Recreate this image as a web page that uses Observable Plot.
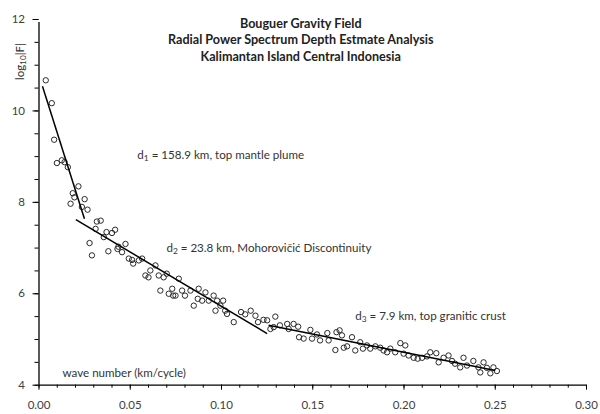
<!DOCTYPE html>
<html>
<head>
<meta charset="utf-8">
<script src="https://cdn.jsdelivr.net/npm/d3@7"></script>
<script src="https://cdn.jsdelivr.net/npm/@observablehq/plot@0.6"></script>
<style>
  html, body { margin: 0; padding: 0; background: #fff; }
  #chart svg { display: block; }
</style>
</head>
<body>
<div id="chart"></div>
<script>
// ---- data ----
const waveNumber = [
  0.0037, 0.0070, 0.0083, 0.0098, 0.0125, 0.0140, 0.0158, 0.0173, 0.0185, 0.0194,
  0.0216, 0.0235, 0.0250, 0.0266, 0.0277, 0.0290, 0.0310, 0.0317, 0.0338, 0.0355,
  0.0370, 0.0380, 0.0400, 0.0417, 0.0430, 0.0435, 0.0455, 0.0474, 0.0492, 0.0510,
  0.0516, 0.0547, 0.0565, 0.0583, 0.0600, 0.0610, 0.0638, 0.0656, 0.0665, 0.0683,
  0.0700, 0.0711, 0.0730, 0.0735, 0.0748, 0.0766, 0.0784, 0.0800, 0.0830, 0.0848,
  0.0870, 0.0875, 0.0894, 0.0912, 0.0930, 0.0957, 0.0967, 0.0976, 0.0994, 0.1009,
  0.1020, 0.1030, 0.1067, 0.1107, 0.1130, 0.1160, 0.1186, 0.1200, 0.1230, 0.1250,
  0.1268, 0.1286, 0.1295, 0.1320, 0.1360, 0.1368, 0.1395, 0.1420, 0.1425, 0.1450,
  0.1487, 0.1496, 0.1523, 0.1540, 0.1580, 0.1587, 0.1624, 0.1630, 0.1647, 0.1660,
  0.1670, 0.1688, 0.1715, 0.1733, 0.1760, 0.1775, 0.1797, 0.1815, 0.1843, 0.1870,
  0.1888, 0.1907, 0.1925, 0.1952, 0.1980, 0.1998, 0.2007, 0.2025, 0.2053, 0.2075,
  0.2099, 0.2126, 0.2144, 0.2177, 0.2190, 0.2217, 0.2244, 0.2263, 0.2280, 0.2308,
  0.2326, 0.2345, 0.2380, 0.2408, 0.2418, 0.2436, 0.2454, 0.2473, 0.2490, 0.2509
];
const logPower = [
  10.67, 10.17, 9.37, 8.86, 8.92, 8.88, 8.77, 7.97, 8.20, 8.11,
  8.35, 7.90, 8.07, 7.84, 7.11, 6.84, 7.42, 7.58, 7.60, 7.24,
  7.35, 6.93, 7.33, 7.40, 6.98, 7.03, 6.91, 7.09, 6.77, 6.74,
  6.66, 6.73, 6.77, 6.40, 6.36, 6.51, 6.62, 6.40, 6.07, 6.36,
  6.44, 6.00, 6.11, 5.96, 5.96, 6.33, 6.07, 5.96, 6.07, 5.74,
  5.89, 6.11, 5.85, 6.03, 5.85, 5.96, 5.63, 5.85, 5.74, 5.85,
  5.63, 5.56, 5.38, 5.60, 5.55, 5.63, 5.52, 5.38, 5.43, 5.42,
  5.23, 5.27, 5.50, 5.31, 5.34, 5.23, 5.34, 5.28, 5.05, 5.02,
  5.21, 5.02, 5.11, 4.98, 5.14, 4.98, 4.77, 5.16, 5.20, 5.09,
  4.82, 4.85, 5.05, 4.76, 4.94, 4.80, 4.87, 4.80, 4.85, 4.82,
  4.76, 4.72, 4.80, 4.72, 4.92, 4.69, 4.87, 4.65, 4.60, 4.58,
  4.60, 4.63, 4.72, 4.70, 4.50, 4.60, 4.65, 4.53, 4.47, 4.39,
  4.60, 4.43, 4.53, 4.39, 4.28, 4.50, 4.38, 4.26, 4.39, 4.31
];
// fitted segments (start/end wave number and log power)
const fitLabels = ["d_1 = 158.9 km, top mantle plume",
                   "d_2 = 23.8 km, Mohorovi\u010Di\u0107 Discontinuity",
                   "d_3 = 7.9 km, top granitic crust"];
const fitX1 = [0.0019, 0.0202, 0.1258];
const fitY1 = [10.54, 7.62, 5.31];
const fitX2 = [0.0249, 0.1250, 0.2500];
const fitY2 = [7.64, 5.13, 4.32];
const xMajorTicks = [0, 0.05, 0.10, 0.15, 0.20, 0.25, 0.30];
const xMinorTicks = d3.range(0, 31).map(i => i / 100);
const yMajorTicks = [4, 6, 8, 10, 12];
const yMinorTicks = d3.range(8, 25).map(i => i / 2);
const titleLines = ["Bouguer Gravity Field",
                    "Radial Power Spectrum Depth Estmate Analysis",
                    "Kalimantan Island Central Indonesia"];
const yLabel = "log_10|F|";
const xLabel = "wave number (km/cycle)";

const points = waveNumber.map((k, i) => ({k, p: logPower[i]}));
const fits = fitX1.map((x, i) => ({x1: x, y1: fitY1[i], x2: fitX2[i], y2: fitY2[i], label: fitLabels[i]}));

const font = "Lato, 'Open Sans', sans-serif";
const annSize = 11.6;
const chart = Plot.plot({
  width: 600,
  height: 414,
  marginLeft: 38.5,
  marginRight: 14,
  marginTop: 19,
  marginBottom: 29.3,
  x: {domain: [0, 0.3]},
  y: {domain: [4, 12]},
  style: {fontFamily: font, fontSize: "11px", background: "white", color: "#404040"},
  marks: [
    Plot.axisX(xMinorTicks, {tickSize: 3, text: null, stroke: "#000", label: null}),
    Plot.axisX(xMajorTicks, {tickSize: 5, tickPadding: 11, tickFormat: d3.format(".2f"), stroke: "#000", fill: "#404040", label: null, fontSize: 11.5}),
    Plot.axisY(yMinorTicks, {tickSize: 4, text: null, stroke: "#000", label: null}),
    Plot.axisY(yMajorTicks, {tickSize: 6, tickPadding: 8, tickFormat: d => String(d), stroke: "#000", fill: "#404040", label: null, fontSize: 11.5}),
    Plot.ruleY([4], {stroke: "#000", strokeWidth: 1.3}),
    Plot.ruleX([0], {stroke: "#000", strokeWidth: 1.3, y1: 4, y2: 12, insetBottom: -3}),
    Plot.dot(points, {x: "k", y: "p", r: 2.7, stroke: "#2a2a2a", strokeWidth: 1, fill: "none"}),
    Plot.link(fits, {x1: "x1", y1: "y1", x2: "x2", y2: "y2", stroke: "#000", strokeWidth: 1.5}),
    Plot.text([fits[0]], {x: 0.0539, y: 9.03, text: "label", textAnchor: "start", fill: "#333", fontSize: annSize, className: "sub"}),
    Plot.text([fits[1]], {x: 0.0698, y: 6.99, text: "label", textAnchor: "start", fill: "#333", fontSize: annSize, className: "sub"}),
    Plot.text([fits[2]], {x: 0.1733, y: 5.50, text: "label", textAnchor: "start", fill: "#333", fontSize: annSize, className: "sub"}),
    Plot.text([xLabel], {x: 0.0129, y: 4.26, text: d => d, textAnchor: "start", fill: "#333", fontSize: annSize}),
    Plot.text([yLabel], {x: 0, y: 11.08, dx: -18.5, rotate: -90, text: d => d, fill: "#333", fontSize: 11.5, className: "sub"}),
    Plot.text([titleLines.join("\n")], {frameAnchor: "top", dx: -12, dy: -3.5, lineAnchor: "top", text: d => d, fontWeight: "bold", fontSize: 12.6, lineHeight: 1.32, fill: "#222"})
  ]
});

// render "_n" as a real subscript
d3.select(chart).selectAll("g.sub text").each(function() {
  const t = this.textContent;
  const m = t.match(/^(.*?)_(\d+)(.*)$/);
  if (!m) return;
  const el = d3.select(this);
  el.text(null);
  el.append("tspan").text(m[1]);
  el.append("tspan").attr("font-size", "0.72em").attr("baseline-shift", "-22%").text(m[2]);
  el.append("tspan").text(m[3]);
});
document.getElementById("chart").appendChild(chart);
</script>
</body>
</html>
